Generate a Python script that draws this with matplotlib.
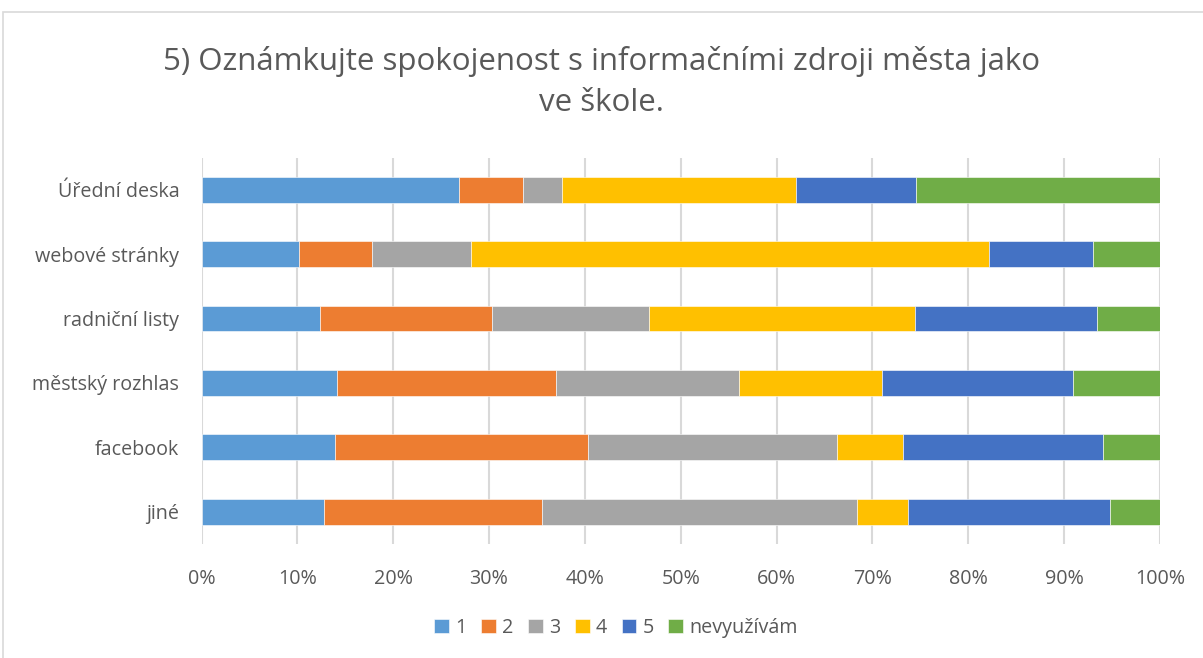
import matplotlib.pyplot as plt
from matplotlib.patches import Rectangle

categories = ['Úřední deska', 'webové stránky', 'radniční listy',
              'městský rozhlas', 'facebook', 'jiné']
series_names = ['1', '2', '3', '4', '5', 'nevyužívám']
# shares in % per category (rows follow categories, columns follow series_names)
g1 = [26.9, 10.2, 12.4, 14.1, 13.9, 12.8]
g2 = [6.6, 7.6, 17.9, 22.9, 26.4, 22.7]
g3 = [4.1, 10.3, 16.4, 19.1, 26.0, 32.9]
g4 = [24.4, 54.1, 27.7, 14.9, 6.9, 5.3]
g5 = [12.5, 10.8, 19.0, 19.9, 20.9, 21.1]
gn = [25.5, 7.0, 6.6, 9.1, 5.9, 5.2]
colors = ['#5B9BD5', '#ED7D31', '#A5A5A5', '#FFC000', '#4472C4', '#70AD47']
tick_labels = ['0%', '10%', '20%', '30%', '40%', '50%', '60%', '70%', '80%', '90%', '100%']

plt.rcParams['font.family'] = ['Open Sans', 'DejaVu Sans']
text_col = '#595959'

fig = plt.figure(figsize=(12.03, 6.58), dpi=100)
fig.patches.append(Rectangle((3 / 1203, -0.1), 1.2, (658 - 12) / 658 + 0.1,
                             transform=fig.transFigure, fill=False,
                             edgecolor='#D9D9D9', linewidth=1.2))

ax = fig.add_axes([201.5 / 1203, 1 - 544 / 658, (1160 - 201.5) / 1203, (544 - 157.5) / 658])

ypos = list(range(len(categories)))
left = [0.0] * len(categories)
for name, vals, col in zip(series_names, [g1, g2, g3, g4, g5, gn], colors):
    ax.barh(ypos, vals, left=left, height=0.4, color=col, label=name,
            edgecolor='white', linewidth=0.4, zorder=3)
    left = [a + b for a, b in zip(left, vals)]

ax.set_xlim(0, 100)
ax.set_ylim(len(categories) - 0.5, -0.5)
ax.set_xticks(range(0, 101, 10))
ax.set_xticklabels(tick_labels)
ax.set_yticks(ypos)
ax.set_yticklabels(categories)
ax.tick_params(axis='both', length=0, labelsize=14.2, colors=text_col)
ax.tick_params(axis='x', pad=18)
ax.tick_params(axis='y', pad=16)
ax.grid(axis='x', color='#D9D9D9', linewidth=1.5, zorder=0)
for s in ax.spines.values():
    s.set_visible(False)

fig.text(0.5, 1 - 82 / 658, '5) Oznámkujte spokojenost s informačními zdroji města jako\nve škole.',
         ha='center', va='center', fontsize=22.5, color=text_col, linespacing=1.5)

fig.legend(loc='center', bbox_to_anchor=(616 / 1203, 1 - 628 / 658), ncol=6, frameon=False,
           fontsize=14.2, labelcolor=text_col, handlelength=0.75, handleheight=0.75,
           handletextpad=0.3, columnspacing=0.75)

fig.savefig('out.png', dpi=100)
